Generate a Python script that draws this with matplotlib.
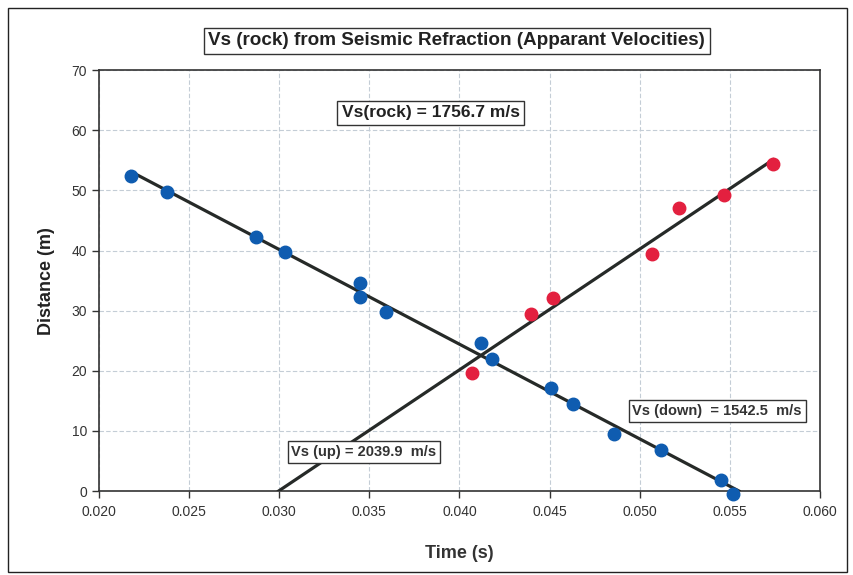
import numpy as np
import matplotlib
matplotlib.use('Agg')
import matplotlib.pyplot as plt
from matplotlib.patches import Rectangle

### data
time_down = [0.0218, 0.0238, 0.0287, 0.0303, 0.0345, 0.0345, 0.0359, 0.0412,
             0.0418, 0.0451, 0.0463, 0.0486, 0.0512, 0.0545, 0.0552]
dist_down = [52.4, 49.8, 42.2, 39.8, 34.6, 32.3, 29.7, 24.6,
             22.0, 17.1, 14.5, 9.5, 6.9, 1.9, -0.5]
time_up = [0.0407, 0.0440, 0.0452, 0.0507, 0.0522, 0.0547, 0.0574]
dist_up = [19.6, 29.5, 32.1, 39.4, 47.1, 49.3, 54.4]

title = 'Vs (rock) from Seismic Refraction (Apparant Velocities)'
label_rock = 'Vs(rock) = 1756.7 m/s'
label_up = 'Vs (up) = 2039.9  m/s'
label_down = 'Vs (down)  = 1542.5  m/s'

plt.rcParams['font.family'] = ['Liberation Sans', 'DejaVu Sans']

fig = plt.figure(figsize=(8.54, 5.75), dpi=100)
ax = fig.add_axes([0.1159, 0.146, 0.8441, 0.732])

# outer chart border
fig.patches.append(Rectangle((0.009, 0.006), 0.983, 0.980, transform=fig.transFigure,
                             fill=False, edgecolor='#222222', linewidth=1.0))

# trendlines (least squares on each branch)
m_d, b_d = np.polyfit(time_down, dist_down, 1)
m_u, b_u = np.polyfit(time_up, dist_up, 1)
xd = np.array([min(time_down), -b_d / m_d])
xu = np.array([-b_u / m_u, max(time_up)])
ax.plot(xd, m_d * xd + b_d, color='#262a28', linewidth=2.3, zorder=3)
ax.plot(xu, m_u * xu + b_u, color='#262a28', linewidth=2.3, zorder=3)

ax.plot(time_down, dist_down, 'o', color='#0f5cb0', markersize=9, zorder=4, clip_on=False)
ax.plot(time_up, dist_up, 'o', color='#e3203f', markersize=9, zorder=4)

ax.set_xlim(0.020, 0.060)
ax.set_ylim(0, 70)
ax.set_xticks(np.arange(0.020, 0.0601, 0.005))
ax.set_xticklabels(['%.3f' % v for v in np.arange(0.020, 0.0601, 0.005)])
ax.set_yticks(np.arange(0, 71, 10))
ax.grid(True, color='#c4cdd6', linestyle=(0, (4, 2)), linewidth=0.8)
ax.set_axisbelow(True)
ax.tick_params(axis='both', labelsize=10, colors='#333333', length=5, width=1)
ax.tick_params(axis='x', pad=5)
for s in ax.spines.values():
    s.set_color('#333333')
    s.set_linewidth(1.2)

ax.set_xlabel('Time (s)', fontsize=13, fontweight='bold', color='#333333', labelpad=19)
ax.set_ylabel('Distance (m)', fontsize=13, fontweight='bold', color='#222222', labelpad=12)

box = dict(boxstyle='square,pad=0.25', facecolor='white', edgecolor='#333333', linewidth=1)
fig.text(0.535, 0.929, title, ha='center', va='center', fontsize=13.6, fontweight='bold',
         color='#222222', bbox=box)
ax.text(0.0384, 62.9, label_rock, ha='center', va='center', fontsize=12.5, fontweight='bold',
        color='#222222', bbox=box, zorder=5)
ax.text(0.0347, 6.5, label_up, ha='center', va='center', fontsize=10.5, fontweight='bold',
        color='#333333', bbox=box, zorder=5)
ax.text(0.0543, 13.3, label_down, ha='center', va='center', fontsize=10.5, fontweight='bold',
        color='#333333', bbox=box, zorder=5)

plt.savefig('out.png', dpi=100)
